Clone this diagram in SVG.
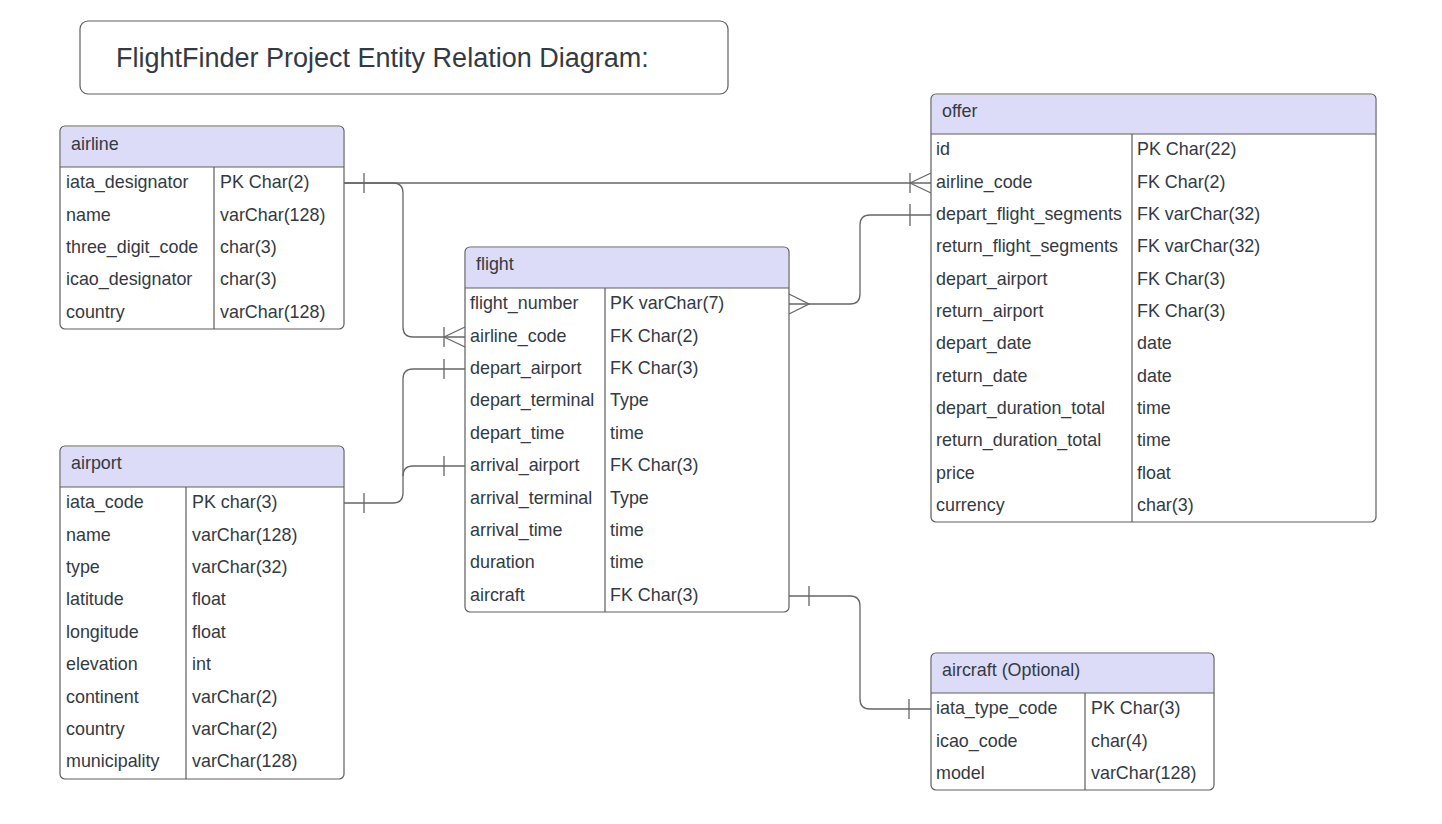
<svg xmlns="http://www.w3.org/2000/svg" width="1442" height="824" viewBox="0 0 1442 824">
<style>
text{font-family:"Liberation Sans",Arial,sans-serif;font-size:17.9px;fill:#333a42}
.title{font-size:27px}
.box{fill:#fff;stroke:#5e5e5e;stroke-width:1.2}
.hdr{fill:#dcdcf8;stroke:none}
.ln{stroke:#5e5e5e;stroke-width:1.2;fill:none}
.cn{stroke:#666;stroke-width:1.3;fill:none}
</style>
<rect width="1442" height="824" fill="#fff"/>
<g id="title">
<rect x="80" y="21" width="648" height="73" rx="8" class="box"/>
<text x="116" y="67" class="title">FlightFinder Project Entity Relation Diagram:</text>
</g>
<g id="airline">
<rect x="60" y="126" width="284" height="203" rx="5" class="box"/>
<path d="M61,167 V131 Q61,127 65,127 H339 Q343,127 343,131 V167 Z" class="hdr"/>
<path d="M60,167 H344 M214,167 V329" class="ln"/>
<text x="71" y="150">airline</text>
<text x="66" y="188">iata_designator</text><text x="220" y="188">PK Char(2)</text>
<text x="66" y="221">name</text><text x="220" y="221">varChar(128)</text>
<text x="66" y="253">three_digit_code</text><text x="220" y="253">char(3)</text>
<text x="66" y="285">icao_designator</text><text x="220" y="285">char(3)</text>
<text x="66" y="318">country</text><text x="220" y="318">varChar(128)</text>
</g>
<g id="airport">
<rect x="60" y="446" width="284" height="333" rx="5" class="box"/>
<path d="M61,487 V451 Q61,447 65,447 H339 Q343,447 343,451 V487 Z" class="hdr"/>
<path d="M60,487 H344 M186,487 V779" class="ln"/>
<text x="71" y="469">airport</text>
<text x="66" y="508">iata_code</text><text x="192" y="508">PK char(3)</text>
<text x="66" y="541">name</text><text x="192" y="541">varChar(128)</text>
<text x="66" y="573">type</text><text x="192" y="573">varChar(32)</text>
<text x="66" y="605">latitude</text><text x="192" y="605">float</text>
<text x="66" y="638">longitude</text><text x="192" y="638">float</text>
<text x="66" y="670">elevation</text><text x="192" y="670">int</text>
<text x="66" y="703">continent</text><text x="192" y="703">varChar(2)</text>
<text x="66" y="735">country</text><text x="192" y="735">varChar(2)</text>
<text x="66" y="767">municipality</text><text x="192" y="767">varChar(128)</text>
</g>
<g id="flight">
<rect x="465" y="247" width="324" height="365" rx="5" class="box"/>
<path d="M466,288 V252 Q466,248 470,248 H784 Q788,248 788,252 V288 Z" class="hdr"/>
<path d="M465,288 H789 M605,288 V612" class="ln"/>
<text x="476" y="270">flight</text>
<text x="470" y="309">flight_number</text><text x="610" y="309">PK varChar(7)</text>
<text x="470" y="342">airline_code</text><text x="610" y="342">FK Char(2)</text>
<text x="470" y="374">depart_airport</text><text x="610" y="374">FK Char(3)</text>
<text x="470" y="406">depart_terminal</text><text x="610" y="406">Type</text>
<text x="470" y="439">depart_time</text><text x="610" y="439">time</text>
<text x="470" y="471">arrival_airport</text><text x="610" y="471">FK Char(3)</text>
<text x="470" y="504">arrival_terminal</text><text x="610" y="504">Type</text>
<text x="470" y="536">arrival_time</text><text x="610" y="536">time</text>
<text x="470" y="568">duration</text><text x="610" y="568">time</text>
<text x="470" y="601">aircraft</text><text x="610" y="601">FK Char(3)</text>
</g>
<g id="offer">
<rect x="931" y="94" width="445" height="428" rx="5" class="box"/>
<path d="M932,134 V99 Q932,95 936,95 H1371 Q1375,95 1375,99 V134 Z" class="hdr"/>
<path d="M931,134 H1376 M1132,134 V522" class="ln"/>
<text x="942" y="117">offer</text>
<text x="936" y="155">id</text><text x="1137" y="155">PK Char(22)</text>
<text x="936" y="188">airline_code</text><text x="1137" y="188">FK Char(2)</text>
<text x="936" y="220">depart_flight_segments</text><text x="1137" y="220">FK varChar(32)</text>
<text x="936" y="252">return_flight_segments</text><text x="1137" y="252">FK varChar(32)</text>
<text x="936" y="285">depart_airport</text><text x="1137" y="285">FK Char(3)</text>
<text x="936" y="317">return_airport</text><text x="1137" y="317">FK Char(3)</text>
<text x="936" y="349">depart_date</text><text x="1137" y="349">date</text>
<text x="936" y="382">return_date</text><text x="1137" y="382">date</text>
<text x="936" y="414">depart_duration_total</text><text x="1137" y="414">time</text>
<text x="936" y="446">return_duration_total</text><text x="1137" y="446">time</text>
<text x="936" y="479">price</text><text x="1137" y="479">float</text>
<text x="936" y="511">currency</text><text x="1137" y="511">char(3)</text>
</g>
<g id="aircraft">
<rect x="931" y="653" width="283" height="137" rx="5" class="box"/>
<path d="M932,693 V658 Q932,654 936,654 H1209 Q1213,654 1213,658 V693 Z" class="hdr"/>
<path d="M931,693 H1214 M1085,693 V790" class="ln"/>
<text x="942" y="676">aircraft (Optional)</text>
<text x="936" y="714">iata_type_code</text><text x="1091" y="714">PK Char(3)</text>
<text x="936" y="747">icao_code</text><text x="1091" y="747">char(4)</text>
<text x="936" y="779">model</text><text x="1091" y="779">varChar(128)</text>
</g>
<g id="connectors">
<path class="cn" d="M344,183 H393 Q403,183 403,193 V327 Q403,337 413,337 H465"/>
<path class="cn" d="M364,173 V193 M444,327 V347 M444,337 L465,327 M444,337 L465,347"/>
<path class="cn" d="M344,183 H931"/>
<path class="cn" d="M910,173 V193 M910,183 L931,173 M910,183 L931,193"/>
<path class="cn" d="M789,304 H850 Q860,304 860,294 V225 Q860,215 870,215 H931"/>
<path class="cn" d="M910,204 V226 M789,294 L809,304 L789,314"/>
<path class="cn" d="M344,503 H393 Q403,503 403,493 V379 Q403,369 413,369 H465"/>
<path class="cn" d="M403,476 Q403,466 413,466 H465"/>
<path class="cn" d="M364,493 V513 M444,359 V379 M444,456 V476"/>
<path class="cn" d="M789,596 H850 Q860,596 860,606 V699 Q860,709 870,709 H931"/>
<path class="cn" d="M809,586 V606 M909,699 V719"/>
</g>
</svg>
